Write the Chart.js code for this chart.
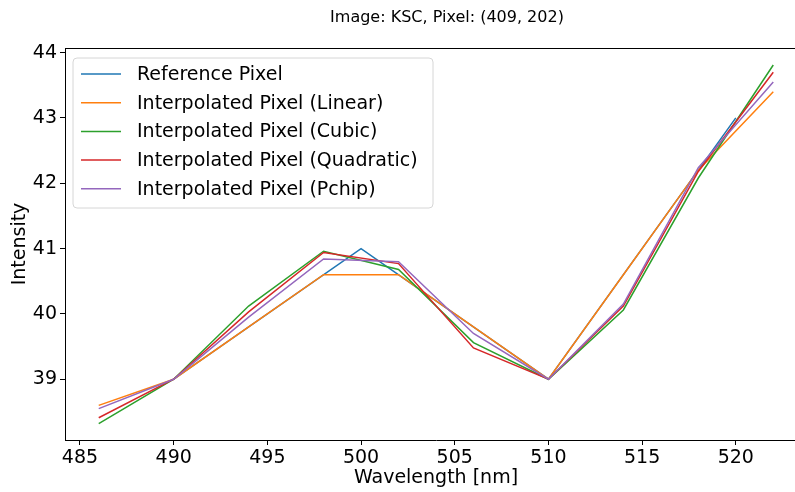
<!DOCTYPE html>
<html>
<head>
<meta charset="utf-8">
<script src="https://cdn.jsdelivr.net/npm/chart.js@4/dist/chart.umd.min.js"></script>
<style>
html,body{margin:0;padding:0;overflow:hidden;background:#fff;width:795px;height:492px;}
canvas{display:block;}
</style>
</head>
<body>
<canvas id="c" width="807" height="492"></canvas>
<script>
// ---- data ----
const titleText = "Image: KSC, Pixel: (409, 202)";
const wavelengths = [486, 490, 494, 498, 502, 506, 510, 514, 518, 522];
const refWavelengths = [490, 500, 510, 520];
const refValues = [39, 41, 39, 43];
const linearValues = [38.6, 39, 39.8, 40.6, 40.6, 39.8, 39, 40.6, 42.2, 43.4];
const cubicValues = [38.32, 39, 40.12, 40.96, 40.68, 39.56, 39, 40.06, 42.08, 43.81];
const quadraticValues = [38.41, 39, 40.03, 40.94, 40.77, 39.48, 39, 40.12, 42.18, 43.70];
const pchipValues = [38.55, 39, 39.95, 40.84, 40.80, 39.70, 39, 40.15, 42.24, 43.55];
const xTicks = [485, 490, 495, 500, 505, 510, 515, 520];
const yTicks = [39, 40, 41, 42, 43, 44];
const seriesNames = ["Reference Pixel", "Interpolated Pixel (Linear)", "Interpolated Pixel (Cubic)", "Interpolated Pixel (Quadratic)", "Interpolated Pixel (Pchip)"];
const seriesColors = ["#1f77b4", "#ff7f0e", "#2ca02c", "#d62728", "#9467bd"];

const FONT = "'DejaVu Sans', sans-serif";
const pts = (xs, ys) => xs.map((x, i) => ({x: x, y: ys[i]}));
const allSeries = [
  pts(refWavelengths, refValues),
  pts(wavelengths, linearValues),
  pts(wavelengths, cubicValues),
  pts(wavelengths, quadraticValues),
  pts(wavelengths, pchipValues)
];

const datasets = allSeries.map((d, i) => ({
  label: seriesNames[i],
  data: d,
  borderColor: seriesColors[i],
  backgroundColor: seriesColors[i],
  borderWidth: 1.5,
  pointRadius: 0,
  tension: 0,
  fill: false,
  order: 5 - i
}));

const framePlugin = {
  id: 'frame',
  afterDatasetsDraw(chart) {
    const {ctx, chartArea: a} = chart;
    ctx.save();
    // top spine
    ctx.strokeStyle = '#000';
    ctx.lineWidth = 1;
    ctx.beginPath();
    ctx.moveTo(a.left, a.top + 0.5);
    ctx.lineTo(a.right, a.top + 0.5);
    ctx.stroke();
    // legend
    const lx = 73, ly = 58, lw = 360, lh = 150, r = 4;
    ctx.beginPath();
    ctx.moveTo(lx + r, ly);
    ctx.arcTo(lx + lw, ly, lx + lw, ly + lh, r);
    ctx.arcTo(lx + lw, ly + lh, lx, ly + lh, r);
    ctx.arcTo(lx, ly + lh, lx, ly, r);
    ctx.arcTo(lx, ly, lx + lw, ly, r);
    ctx.closePath();
    ctx.fillStyle = 'rgba(255,255,255,0.8)';
    ctx.fill();
    ctx.strokeStyle = '#d6d6d6';
    ctx.lineWidth = 1;
    ctx.stroke();
    ctx.font = '19px ' + FONT;
    ctx.textBaseline = 'middle';
    ctx.textAlign = 'left';
    seriesNames.forEach((name, i) => {
      const y = 74 + i * 28.7;
      ctx.strokeStyle = seriesColors[i];
      ctx.lineWidth = 1.5;
      ctx.beginPath();
      ctx.moveTo(81, y);
      ctx.lineTo(121, y);
      ctx.stroke();
      ctx.fillStyle = '#000';
      ctx.fillText(name, 137, y + 1);
    });
    // title
    ctx.font = '16px ' + FONT;
    ctx.textAlign = 'center';
    ctx.fillStyle = '#000';
    ctx.fillText(titleText, 447, 18);
    ctx.restore();
  }
};

new Chart(document.getElementById('c'), {
  type: 'line',
  data: {datasets: datasets},
  options: {
    responsive: false,
    animation: false,
    devicePixelRatio: 1,
    layout: {padding: {top: 48, right: 0, left: 0, bottom: 0}},
    plugins: {legend: {display: false}, tooltip: {enabled: false}, title: {display: false}},
    scales: {
      x: {
        type: 'linear',
        min: 484.2,
        max: 523.8,
        afterBuildTicks: s => { s.ticks = xTicks.map(v => ({value: v})); },
        afterFit: s => { s.height = 52; },
        grid: {display: true, drawOnChartArea: false, tickLength: 5, color: '#000', tickWidth: 1},
        border: {display: true, color: '#000', width: 1},
        ticks: {color: '#000', font: {family: FONT, size: 19}, padding: 2, maxRotation: 0, autoSkip: false},
        title: {display: true, text: 'Wavelength [nm]', color: '#000', font: {family: FONT, size: 19}, padding: {top: 0, bottom: 3}}
      },
      y: {
        type: 'linear',
        min: 38.07,
        max: 44.07,
        afterBuildTicks: s => { s.ticks = yTicks.map(v => ({value: v})); },
        afterFit: s => { s.width = 65; },
        grid: {display: true, drawOnChartArea: false, tickLength: 5, color: '#000', tickWidth: 1},
        border: {display: true, color: '#000', width: 1},
        ticks: {color: '#000', font: {family: FONT, size: 19}, padding: 3, autoSkip: false},
        title: {display: true, text: 'Intensity', color: '#000', font: {family: FONT, size: 19}, padding: {top: 9, bottom: 0}}
      }
    }
  },
  plugins: [framePlugin]
});
</script>
</body>
</html>
